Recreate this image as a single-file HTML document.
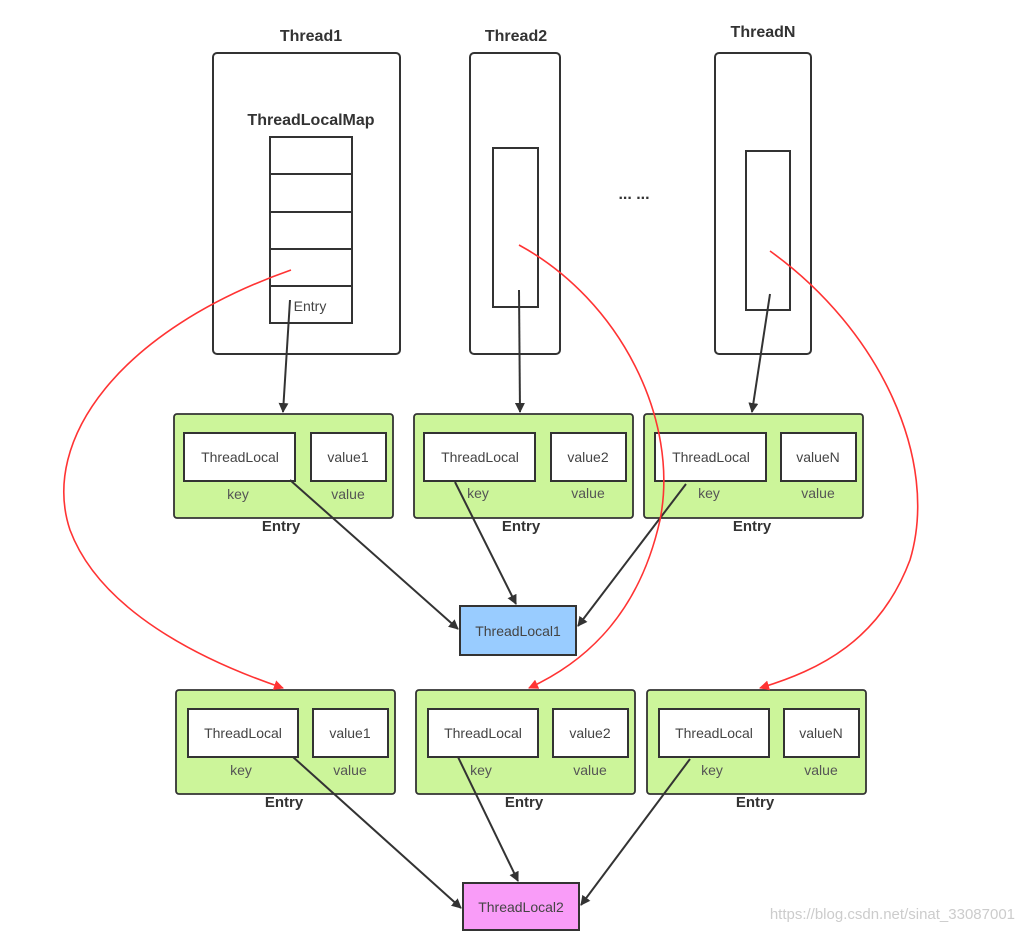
<!DOCTYPE html>
<html><head><meta charset="utf-8"><style>
body{margin:0;background:#fff;}
svg text{font-family:"Liberation Sans",sans-serif;}
</style></head><body>
<svg width="1023" height="933" viewBox="0 0 1023 933" xmlns="http://www.w3.org/2000/svg">
<defs>
<marker id="ab" markerWidth="10" markerHeight="10" refX="9" refY="5" orient="auto" markerUnits="userSpaceOnUse"><path d="M0,0 L10,5 L0,10 Z" fill="#333"/></marker>
<marker id="ar" markerWidth="10" markerHeight="10" refX="9" refY="5" orient="auto" markerUnits="userSpaceOnUse"><path d="M0,0 L10,5 L0,10 Z" fill="#f33"/></marker>
</defs>
<g font-weight="bold" font-size="16" fill="#333" text-anchor="middle">
<text x="311" y="41">Thread1</text><text x="516" y="41">Thread2</text><text x="763" y="37">ThreadN</text>
<text x="311" y="125">ThreadLocalMap</text>
<text x="634" y="199">... ...</text>
</g>
<g fill="none" stroke="#333" stroke-width="2">
<rect x="213" y="53" width="187" height="301" rx="4"/>
<rect x="470" y="53" width="90" height="301" rx="4"/>
<rect x="715" y="53" width="96" height="301" rx="4"/>
<rect x="270" y="137" width="82" height="186"/>
<path d="M270 174H352M270 212H352M270 249H352M270 286H352"/>
<rect x="493" y="148" width="45" height="159"/>
<rect x="746" y="151" width="44" height="159"/>
</g>
<text x="310" y="311" font-size="14" fill="#444" text-anchor="middle">Entry</text>
<g stroke="#333" stroke-width="1.8" fill="#ccf59a">
<rect x="174" y="414" width="219" height="104" rx="3"/><rect x="414" y="414" width="219" height="104" rx="3"/><rect x="644" y="414" width="219" height="104" rx="3"/>
<rect x="176" y="690" width="219" height="104" rx="3"/><rect x="416" y="690" width="219" height="104" rx="3"/><rect x="647" y="690" width="219" height="104" rx="3"/>
</g>
<g stroke="#333" stroke-width="2" fill="#fff">
<rect x="184" y="433" width="111" height="48"/><rect x="311" y="433" width="75" height="48"/>
<rect x="424" y="433" width="111" height="48"/><rect x="551" y="433" width="75" height="48"/>
<rect x="655" y="433" width="111" height="48"/><rect x="781" y="433" width="75" height="48"/>
<rect x="188" y="709" width="110" height="48"/><rect x="313" y="709" width="75" height="48"/>
<rect x="428" y="709" width="110" height="48"/><rect x="553" y="709" width="75" height="48"/>
<rect x="659" y="709" width="110" height="48"/><rect x="784" y="709" width="75" height="48"/>
</g>
<rect x="460" y="606" width="116" height="49" fill="#99ccff" stroke="#333" stroke-width="2"/>
<rect x="463" y="883" width="116" height="47" fill="#f99cf8" stroke="#333" stroke-width="2"/>
<g font-size="14" fill="#444" text-anchor="middle">
<text x="240" y="462">ThreadLocal</text><text x="348" y="462">value1</text>
<text x="480" y="462">ThreadLocal</text><text x="588" y="462">value2</text>
<text x="711" y="462">ThreadLocal</text><text x="818" y="462">valueN</text>
<text x="243" y="738">ThreadLocal</text><text x="350" y="738">value1</text>
<text x="483" y="738">ThreadLocal</text><text x="590" y="738">value2</text>
<text x="714" y="738">ThreadLocal</text><text x="821" y="738">valueN</text>
<text x="518" y="636">ThreadLocal1</text><text x="521" y="912">ThreadLocal2</text>
</g>
<g font-size="14" fill="#555" text-anchor="middle">
<text x="238" y="499">key</text><text x="348" y="499">value</text>
<text x="478" y="498">key</text><text x="588" y="498">value</text>
<text x="709" y="498">key</text><text x="818" y="498">value</text>
<text x="241" y="775">key</text><text x="350" y="775">value</text>
<text x="481" y="775">key</text><text x="590" y="775">value</text>
<text x="712" y="775">key</text><text x="821" y="775">value</text>
</g>
<g font-weight="bold" font-size="15" fill="#333" text-anchor="middle">
<text x="281" y="531">Entry</text><text x="521" y="531">Entry</text><text x="752" y="531">Entry</text>
<text x="284" y="807">Entry</text><text x="524" y="807">Entry</text><text x="755" y="807">Entry</text>
</g>
<g stroke="#333" stroke-width="2" fill="none" marker-end="url(#ab)">
<path d="M290 300L283 412"/><path d="M519 290L520 412"/><path d="M770 294L752 412"/>
<path d="M290 480L458 629"/><path d="M455 482L516 604"/><path d="M686 484L578 626"/>
<path d="M293 757L461 908"/><path d="M458 757L518 881"/><path d="M690 759L581 905"/>
</g>
<g stroke="#f33" stroke-width="1.6" fill="none" marker-end="url(#ar)">
<path d="M291 270C120 330 40 440 70 530C100 610 200 660 283 688"/>
<path d="M519 245C620 300 680 420 660 520C640 610 590 660 529 688"/>
<path d="M770 251C880 330 940 460 910 560C880 640 820 670 760 688"/>
</g>
<text x="1015" y="919" font-size="15" fill="#ccc" text-anchor="end">https://blog.csdn.net/sinat_33087001</text>
</svg>
</body></html>
